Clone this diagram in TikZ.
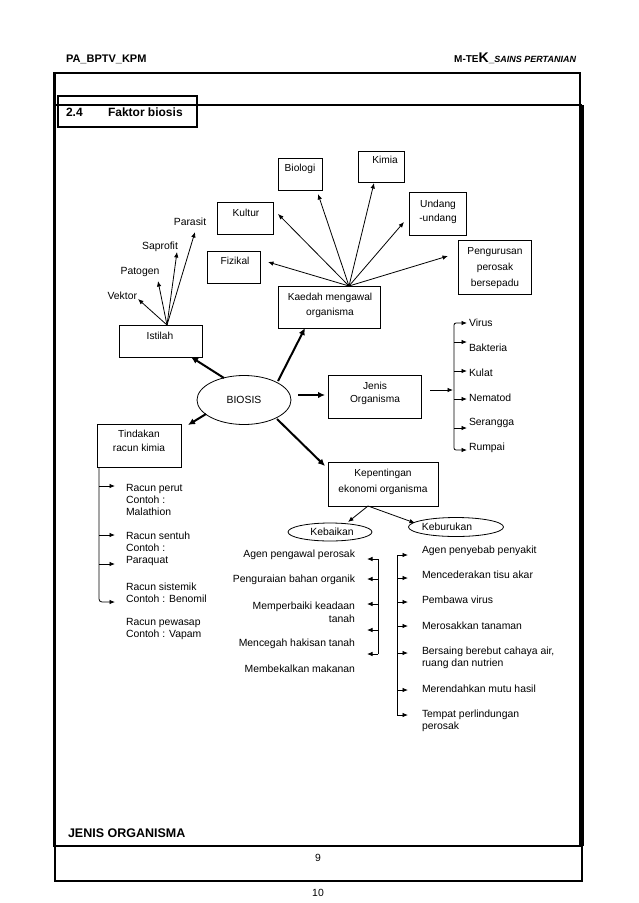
\documentclass[tikz,border=0pt]{standalone}
\usepackage{fontspec}
\setmainfont{Liberation Sans}
\usetikzlibrary{arrows.meta,shapes.geometric}
\begin{document}
\begin{tikzpicture}[x=1pt,y=-1pt,
  every node/.style={inner sep=0pt, outer sep=0pt, font=\fontsize{10.4}{12.5}\selectfont},
  rbox/.style={draw, line width=0.8pt, anchor=north west, inner sep=0pt, outer sep=0pt},
  lbl/.style={align=center, font=\fontsize{10.2}{14}\selectfont},
  item/.style={align=left, anchor=west, font=\fontsize{10.4}{12}\selectfont},
  ritem/.style={align=right, anchor=east, font=\fontsize{10.4}{13}\selectfont},
  oval/.style={draw, ellipse, line width=0.8pt, inner sep=0pt},
  arr/.style={line width=0.8pt, -{Latex[length=5.5pt,width=4.5pt]}},
  bigarr/.style={line width=2pt, -{Latex[length=7pt,width=6.5pt]}},
  spine/.style={line width=0.8pt},
  frame/.style={line width=1.6pt}
]
\useasboundingbox (0,0) rectangle (638,903);

% ---------- page header ----------
\node[anchor=base west, font=\bfseries\fontsize{11}{12}\selectfont] (hl) at (66,62) {PA\_BPTV\_KPM};
\node[anchor=base east, font=\bfseries\fontsize{10}{12}\selectfont] (hr) at (576,62)
  {M-TE{\fontsize{14}{14}\selectfont K}\_{\itshape\fontsize{9}{10}\selectfont SAINS PERTANIAN}};

% ---------- frames ----------
\draw[frame] (54,73) rectangle (580,846);
\draw[line width=2pt] (55,105) -- (582,105);
\draw[line width=3pt] (582,105) -- (582,846);
\draw[line width=2.5pt] (55,73) -- (55,846);
\draw[frame] (55,846) -- (582,846);
\node[draw, line width=1.5pt, anchor=north west, minimum width=527, minimum height=35] (pgbox) at (55,846) {};
\node (p9) at (318,858) {9};
\node (p10) at (318,893) {10};

% section title
\node[draw, line width=1.5pt, anchor=north west, minimum width=139, minimum height=31] (sec) at (58,96) {};
\node[anchor=base west, font=\bfseries\fontsize{12}{12}\selectfont] (secn) at (66,116) {2.4};
\node[anchor=base west, font=\bfseries\fontsize{12}{12}\selectfont] (sect) at (108,116) {Faktor biosis};

\node[anchor=base west, font=\bfseries\fontsize{12.5}{13}\selectfont] (jo) at (68,837) {JENIS ORGANISMA};

% ---------- Kaedah fan ----------
\node[rbox, minimum width=44, minimum height=32] (bio) at (278,158) {};
\node[lbl] (biot) at (300,169) {Biologi};
\node[rbox, minimum width=46, minimum height=31] (kim) at (358,151) {};
\node[lbl] (kimt) at (385,160) {Kimia};
\node[rbox, minimum width=56, minimum height=32] (kul) at (217,202) {};
\node[lbl] (kult) at (246,213) {Kultur};
\node[rbox, minimum width=57, minimum height=43] (und) at (409,192) {};
\node[lbl] (undt) at (438,212) {Undang\\-undang};
\node[rbox, minimum width=53, minimum height=32] (fiz) at (207,251) {};
\node[lbl] (fizt) at (235,261) {Fizikal};
\node[rbox, minimum width=73, minimum height=54] (pen) at (458,240) {};
\node[lbl, font=\fontsize{10.2}{16}\selectfont] (pent) at (495,268) {Pengurusan\\perosak\\bersepadu};
\node[rbox, minimum width=102, minimum height=42] (kae) at (278,286) {};
\node[lbl, font=\fontsize{10.2}{15}\selectfont] (kaet) at (330,305) {Kaedah mengawal\\organisma};

\coordinate (kf) at (349,286);
\coordinate (fizE) at (268,262);
\coordinate (kulE) at (278,214);
\coordinate (bioE) at (318,194);
\coordinate (kimE) at (374,183);
\coordinate (undE) at (404,222);
\coordinate (penE) at (448,256);
\foreach \e in {fizE,kulE,bioE,kimE,undE,penE} \draw[arr] (kf) -- (\e);

% ---------- Istilah fan ----------
\node[rbox, minimum width=83, minimum height=32] (ist) at (119,325) {};
\node[lbl] (istt) at (160,336) {Istilah};
\node[anchor=east] (vek) at (137,296) {Vektor};
\node (pat) at (140,272) {Patogen};
\node (sap) at (160,247) {Saprofit};
\node (par) at (190,222) {Parasit};
\coordinate (if) at (167,325);
\coordinate (vekE) at (138,299);
\coordinate (patE) at (158,281);
\coordinate (sapE) at (177,252);
\coordinate (parE) at (195,232);
\foreach \e in {vekE,patE,sapE,parE} \draw[arr] (if) -- (\e);

% ---------- BIOSIS ----------
\node[oval, minimum width=94, minimum height=49] (bios) at (244,400) {BIOSIS};
\coordinate (b1s) at (224,378); \coordinate (b1e) at (191,357);
\coordinate (b2s) at (278,381); \coordinate (b2e) at (305,328);
\coordinate (b3s) at (298,395); \coordinate (b3e) at (325,395);
\coordinate (b4s) at (206,414); \coordinate (b4e) at (188,425);
\coordinate (b5s) at (277,419); \coordinate (b5e) at (325,466);
\draw[bigarr] (b1s) -- (b1e);
\draw[bigarr] (b2s) -- (b2e);
\draw[bigarr] (b3s) -- (b3e);
\draw[bigarr] (b4s) -- (b4e);
\draw[bigarr] (b5s) -- (b5e);

% ---------- Tindakan racun kimia ----------
\node[rbox, minimum width=84, minimum height=43] (tin) at (97,424) {};
\node[lbl] (tint) at (139,441) {Tindakan\\racun kimia};
\coordinate (ts0) at (99,467);
\coordinate (tsb) at (99,602);
\coordinate (teb) at (115,602);
\draw[spine, rounded corners=3pt, -{Latex[length=5.5pt,width=4.5pt]}] (ts0) -- (tsb) -- (teb);
\foreach \n/\y in {1/486,2/535,3/564} {
  \coordinate (ts\n) at (99,\y); \coordinate (te\n) at (115,\y);
  \draw[arr] (ts\n) -- (te\n);
}
\node[item] (r1) at (126,499.5) {Racun perut\\Contoh :\\Malathion};
\node[item] (r2) at (126,549) {Racun sentuh\\Contoh :\\Paraquat};
\node[item] (r3) at (126,592.5) {Racun sistemik\\Contoh : Benomil};
\node[item] (r4) at (126,628.5) {Racun pewasap\\Contoh : Vapam};

% ---------- Jenis Organisma ----------
\node[rbox, minimum width=93, minimum height=43] (jen) at (328,375) {};
\node[lbl, font=\fontsize{10.2}{13}\selectfont] (jent) at (375,393.5) {Jenis\\Organisma};
\coordinate (ja) at (430,390); \coordinate (jb) at (453,390);
\draw[arr] (ja) -- (jb);
\coordinate (jtop) at (454,323); \coordinate (jbot) at (454,450);
\coordinate (jtopE) at (467,323); \coordinate (jbotE) at (467,450);
\coordinate (jmid) at (454,390);
\draw[spine, rounded corners=2pt, -{Latex[length=5.5pt,width=4.5pt]}] (jmid) -- (jtop) -- (jtopE);
\draw[spine, rounded corners=2pt, -{Latex[length=5.5pt,width=4.5pt]}] (jmid) -- (jbot) -- (jbotE);
\foreach \n/\y in {2/342,3/371,4/399,5/428} {
  \coordinate (js\n) at (454,\y); \coordinate (je\n) at (467,\y);
  \draw[arr] (js\n) -- (je\n);
}
\node[item] (o1) at (469,323) {Virus};
\node[item] (o2) at (469,348) {Bakteria};
\node[item] (o3) at (469,373) {Kulat};
\node[item] (o4) at (469,398) {Nematod};
\node[item] (o5) at (469,423) {Serangga};
\node[item] (o6) at (469,448) {Rumpai};

% ---------- Kepentingan ekonomi ----------
\node[rbox, minimum width=110, minimum height=44] (kep) at (328,462) {};
\node[lbl, font=\fontsize{10.2}{16}\selectfont] (kept) at (383,482) {Kepentingan\\ekonomi organisma};
\coordinate (ks) at (368,506);
\node[oval, minimum width=84, minimum height=18] (baik) at (330,532) {};
\node (baikt) at (332,532) {Kebaikan};
\node[oval, minimum width=95, minimum height=19] (buruk) at (456,527) {};
\node (burukt) at (447,527) {Keburukan};
\coordinate (baikE) at (348,522);
\coordinate (burukE) at (415,523);
\draw[arr] (ks) -- (baikE);
\draw[arr] (ks) -- (burukE);

% Kebaikan list
\coordinate (kbt) at (378,559); \coordinate (kbb) at (378,654);
\draw[spine] (kbt) -- (kbb);
\foreach \n/\y in {1/559,2/579,3/604,4/630,5/654} {
  \coordinate (ka\n) at (378,\y); \coordinate (kz\n) at (367,\y);
  \draw[arr] (ka\n) -- (kz\n);
}
\node[ritem] (g1) at (355,555) {Agen pengawal perosak};
\node[ritem] (g2) at (355,580) {Penguraian bahan organik};
\node[ritem] (g3) at (355,612.5) {Memperbaiki keadaan\\tanah};
\node[ritem] (g4) at (355,644) {Mencegah hakisan tanah};
\node[ritem] (g5) at (355,669) {Membekalkan makanan};

% Keburukan list
\coordinate (kct) at (397,555); \coordinate (kcb) at (397,715);
\draw[spine] (kct) -- (kcb);
\foreach \n/\y in {1/555,2/578,3/602,4/626,5/653,6/690,7/715} {
  \coordinate (kc\n) at (397,\y); \coordinate (kd\n) at (408,\y);
  \draw[arr] (kc\n) -- (kd\n);
}
\node[item] (h1) at (422,551) {Agen penyebab penyakit};
\node[item] (h2) at (422,575) {Mencederakan tisu akar};
\node[item] (h3) at (422,600) {Pembawa virus};
\node[item] (h4) at (422,626) {Merosakkan tanaman};
\node[item] (h5) at (422,658) {Bersaing berebut cahaya air,\\ruang dan nutrien};
\node[item] (h6) at (422,689) {Merendahkan mutu hasil};
\node[item] (h7) at (422,721) {Tempat perlindungan\\perosak};
\end{tikzpicture}
\end{document}
